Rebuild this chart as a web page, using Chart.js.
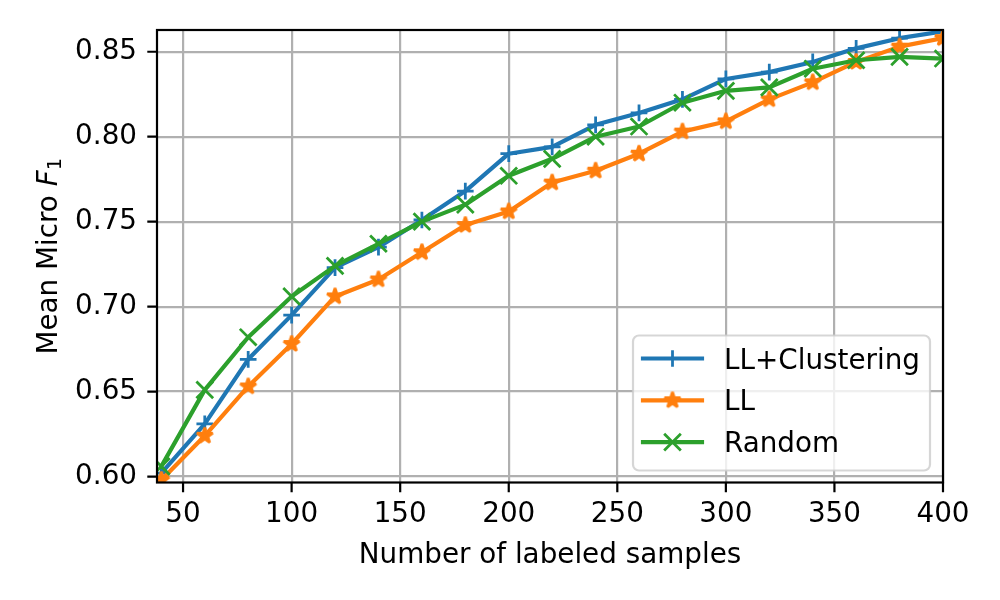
<!DOCTYPE html>
<html lang="en">
<head>
  <meta charset="UTF-8"/>
  <title>Mean Micro F1 vs number of labeled samples</title>
  <script src="https://cdn.jsdelivr.net/npm/chart.js"></script>
  <style>
    html, body { margin: 0; padding: 0; background: #fff; }
    #wrap { width: 1000px; height: 600px; }
  </style>
</head>
<body>
<div id="wrap"><canvas id="chart" width="1000" height="600"></canvas></div>
<script>
// data
const samples      = [40, 60, 80, 100, 120, 140, 160, 180, 200, 220, 240, 260, 280, 300, 320, 340, 360, 380, 400];
const llClustering = [0.602, 0.631, 0.669, 0.695, 0.723, 0.735, 0.751, 0.768, 0.790, 0.794, 0.807, 0.814, 0.822, 0.834, 0.838, 0.844, 0.852, 0.858, 0.862];
const ll           = [0.598, 0.624, 0.653, 0.678, 0.706, 0.716, 0.732, 0.748, 0.756, 0.773, 0.780, 0.790, 0.803, 0.809, 0.822, 0.832, 0.844, 0.853, 0.858];
const randomSel    = [0.606, 0.651, 0.682, 0.706, 0.724, 0.737, 0.750, 0.760, 0.777, 0.787, 0.800, 0.806, 0.820, 0.827, 0.829, 0.840, 0.845, 0.847, 0.846];
const seriesNames  = ["LL+Clustering", "LL", "Random"];
const xTicks = [50, 100, 150, 200, 250, 300, 350, 400];
const yTicks = [0.60, 0.65, 0.70, 0.75, 0.80, 0.85];

const FS = 27.8;               // 10pt at 200 dpi
const LW = 4.17, MEW = 2.78;   // line width, marker edge width
const BLUE = "#1f77b4", ORANGE = "#ff7f0e", GREEN = "#2ca02c";
Chart.defaults.font.family = "'DejaVu Sans', sans-serif";
Chart.defaults.font.size = FS;
Chart.defaults.color = "#000";

// filled 5-point star like matplotlib '*'
function starPath(ctx, cx, cy, r) {
  const ri = r * 0.381966;
  ctx.beginPath();
  for (let i = 0; i < 10; i++) {
    const rr = i % 2 ? ri : r;
    const a = -Math.PI / 2 + i * Math.PI / 5;
    const px = cx + rr * Math.cos(a), py = cy + rr * Math.sin(a);
    i ? ctx.lineTo(px, py) : ctx.moveTo(px, py);
  }
  ctx.closePath();
}
const starImg = document.createElement("canvas");
starImg.width = 30; starImg.height = 30;
(function(){
  const c = starImg.getContext("2d");
  starPath(c, 15, 15, 8.33);
  c.fillStyle = ORANGE; c.strokeStyle = ORANGE;
  c.lineWidth = MEW; c.lineJoin = "bevel";
  c.fill(); c.stroke();
})();

const pts = arr => samples.map((s, i) => ({x: s, y: arr[i]}));
const common = { borderWidth: LW, pointBorderWidth: MEW, borderJoinStyle: "round", borderCapStyle: "square", tension: 0, fill: false, clip: 0 };

const frame = {
  id: "frame",
  afterDatasetsDraw(chart) {
    const {ctx, chartArea: a, scales: {x, y}} = chart;
    ctx.save();
    ctx.strokeStyle = "#000"; ctx.lineWidth = 2.2;
    ctx.beginPath();
    xTicks.forEach(v => { const p = x.getPixelForValue(v); ctx.moveTo(p, a.bottom); ctx.lineTo(p, a.bottom + 9.7); });
    yTicks.forEach(v => { const p = y.getPixelForValue(v); ctx.moveTo(a.left, p); ctx.lineTo(a.left - 9.7, p); });
    ctx.stroke();
    ctx.strokeRect(a.left, a.top, a.right - a.left, a.bottom - a.top);
    ctx.restore();
  },
  afterDraw(chart) {
    const {ctx, chartArea: a} = chart;
    ctx.save();
    ctx.fillStyle = "#000";
    // x title
    ctx.font = FS + "px 'DejaVu Sans'";
    ctx.textAlign = "center"; ctx.textBaseline = "alphabetic";
    ctx.fillText("Number of labeled samples", (a.left + a.right) / 2, 563);
    // y title with italic F and subscript 1
    ctx.save();
    ctx.translate(57, (a.top + a.bottom) / 2);
    ctx.rotate(-Math.PI / 2);
    ctx.textAlign = "left";
    const t1 = "Mean Micro ";
    ctx.font = FS + "px 'DejaVu Sans'"; const w1 = ctx.measureText(t1).width;
    ctx.font = "oblique " + FS + "px 'DejaVu Sans'"; const w2 = ctx.measureText("F").width;
    ctx.font = (FS * 0.7) + "px 'DejaVu Sans'"; const w3 = ctx.measureText("1").width;
    let sx = -(w1 + w2 + w3) / 2;
    ctx.font = FS + "px 'DejaVu Sans'"; ctx.fillText(t1, sx, 0); sx += w1;
    ctx.font = "oblique " + FS + "px 'DejaVu Sans'"; ctx.fillText("F", sx, 0); sx += w2;
    ctx.font = (FS * 0.7) + "px 'DejaVu Sans'"; ctx.fillText("1", sx, 4);
    ctx.restore();

    // legend (lower right)
    const bx = a.right - 310, by = a.bottom - 147, bw = 297, bh = 135, r = 6;
    ctx.beginPath();
    ctx.moveTo(bx + r, by); ctx.arcTo(bx + bw, by, bx + bw, by + bh, r);
    ctx.arcTo(bx + bw, by + bh, bx, by + bh, r);
    ctx.arcTo(bx, by + bh, bx, by, r);
    ctx.arcTo(bx, by, bx + bw, by, r);
    ctx.closePath();
    ctx.fillStyle = "rgba(255,255,255,0.8)"; ctx.fill();
    ctx.strokeStyle = "rgba(204,204,204,0.8)"; ctx.lineWidth = 2.2; ctx.stroke();

    const cols = [BLUE, ORANGE, GREEN];
    const x0 = bx + 10, x1 = bx + 69, xm = (x0 + x1) / 2;
    seriesNames.forEach((name, i) => {
      const ry = by + 23 + i * 41.8;
      ctx.strokeStyle = cols[i]; ctx.lineWidth = LW; ctx.lineCap = "square";
      ctx.beginPath(); ctx.moveTo(x0, ry); ctx.lineTo(x1, ry); ctx.stroke();
      ctx.lineWidth = MEW; ctx.lineCap = "butt";
      if (i === 0) {
        ctx.beginPath(); ctx.moveTo(xm - 8.33, ry); ctx.lineTo(xm + 8.33, ry);
        ctx.moveTo(xm, ry - 8.33); ctx.lineTo(xm, ry + 8.33); ctx.stroke();
      } else if (i === 1) {
        ctx.drawImage(starImg, xm - 15, ry - 15);
      } else {
        ctx.beginPath(); ctx.moveTo(xm - 8.33, ry - 8.33); ctx.lineTo(xm + 8.33, ry + 8.33);
        ctx.moveTo(xm - 8.33, ry + 8.33); ctx.lineTo(xm + 8.33, ry - 8.33); ctx.stroke();
      }
      ctx.fillStyle = "#000"; ctx.font = FS + "px 'DejaVu Sans'";
      ctx.textAlign = "left"; ctx.textBaseline = "alphabetic";
      ctx.fillText(name, bx + 91, ry + 10);
    });
    ctx.restore();
  }
};

new Chart(document.getElementById("chart"), {
  type: "line",
  data: {
    datasets: [
      Object.assign({ label: seriesNames[0], data: pts(llClustering), borderColor: BLUE, pointBorderColor: BLUE, pointBackgroundColor: BLUE, pointStyle: "cross", pointRadius: 8.33, order: 3 }, common),
      Object.assign({ label: seriesNames[1], data: pts(ll), borderColor: ORANGE, pointBorderColor: ORANGE, pointBackgroundColor: ORANGE, pointStyle: starImg, pointRadius: 8.33, order: 2 }, common),
      Object.assign({ label: seriesNames[2], data: pts(randomSel), borderColor: GREEN, pointBorderColor: GREEN, pointBackgroundColor: GREEN, pointStyle: "crossRot", pointRadius: 11.8, order: 1 }, common)
    ]
  },
  options: {
    responsive: false,
    animation: false,
    devicePixelRatio: 1,
    layout: { padding: { left: 0, right: 57, top: 30, bottom: 0 } },
    plugins: { legend: { display: false }, tooltip: { enabled: false } },
    scales: {
      x: {
        type: "linear", min: 38, max: 400,
        afterBuildTicks: s => { s.ticks = xTicks.map(v => ({value: v})); },
        afterFit: s => { s.height = 117.5; s.paddingLeft = 0; s.paddingRight = 0; },
        grid: { color: "#b0b0b0", lineWidth: 2.2, drawTicks: false },
        border: { display: false },
        ticks: { padding: 16, maxRotation: 0, autoSkip: false, callback: v => String(v) }
      },
      y: {
        type: "linear", min: 0.5965, max: 0.8628,
        afterBuildTicks: s => { s.ticks = yTicks.map(v => ({value: v})); },
        afterFit: s => { s.width = 157; s.paddingTop = 0; s.paddingBottom = 0; },
        grid: { color: "#b0b0b0", lineWidth: 2.2, drawTicks: false },
        border: { display: false },
        ticks: { padding: 20, autoSkip: false, callback: v => v.toFixed(2) }
      }
    }
  },
  plugins: [frame]
});
</script>
</body>
</html>
